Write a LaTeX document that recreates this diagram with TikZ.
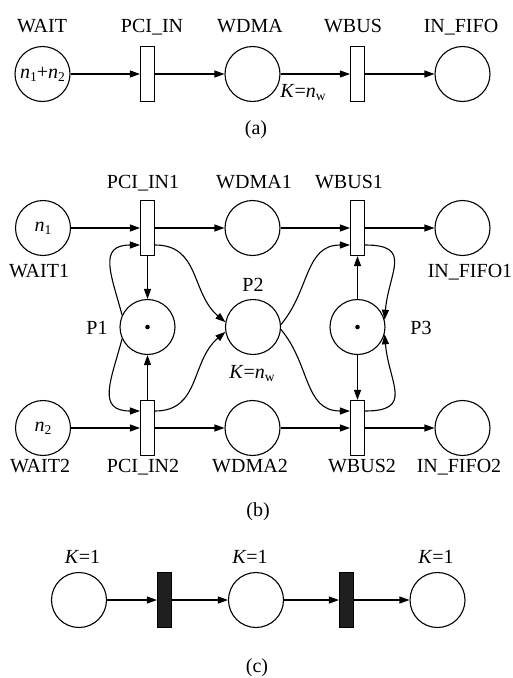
\documentclass[tikz,border=0pt]{standalone}
\usepackage{fontspec}
\setmainfont{Liberation Serif}
\usetikzlibrary{arrows.meta,calc}
\newcommand\lowsub[1]{\raisebox{-0.16em}{\fontsize{13.5}{13.5}\selectfont #1}}
\newcommand\vn{\textit{n}}
\newcommand\Knw{\textit{K}=\vn\lowsub{w}}
\begin{document}
\begin{tikzpicture}[x=1pt,y=-1pt,
  font=\fontsize{20}{22}\selectfont, line width=1.1pt,
  place/.style={circle,draw,minimum size=55pt,inner sep=0pt},
  trans/.style={rectangle,draw,fill=white,minimum width=14pt,minimum height=55pt,inner sep=0pt},
  btrans/.style={trans,fill=black!88},
  arc/.style={-{Triangle[length=10pt,width=7pt]}},
  lbl/.style={inner sep=0pt,anchor=base},
  tok/.style={circle,fill=black,inner sep=0pt,minimum size=4.6pt}]
\useasboundingbox (0,0) rectangle (512,678);

% ---------------- (a)
\node[place] (wait) at (42.5,74) {\vn\lowsub{1}+\vn\lowsub{2}};
\node[trans] (pci) at (147.5,74) {};
\node[place] (wdma) at (252.5,74) {};
\node[trans] (wbus) at (357.5,74) {};
\node[place] (fifo) at (462.5,74) {};
\draw[arc] (wait) -- (pci);
\draw[arc] (pci) -- (wdma);
\draw[arc] (wdma) -- (wbus);
\draw[arc] (wbus) -- (fifo);
\node[lbl] (lwait) at (42,32) {WAIT};
\node[lbl] (lpci) at (152,32) {PCI\_IN};
\node[lbl] (lwdma) at (250,32) {WDMA};
\node[lbl] (lwbus) at (353,32) {WBUS};
\node[lbl] (lfifo) at (461,32) {IN\_FIFO};
\node[lbl] (lka) at (303,97) {\Knw};
\node[lbl] (capa) at (256,134) {(a)};

% ---------------- (b)
\node[place] (wait1) at (43,228) {\vn\lowsub{1}};
\node[trans] (pci1) at (147.5,228) {};
\node[place] (wdma1) at (252.5,228) {};
\node[trans] (wbus1) at (357.5,228) {};
\node[place] (fifo1) at (462.5,228) {};

\node[place] (p1) at (147.5,327) {};
\node[place] (p2) at (253,327) {};
\node[place] (p3) at (357.5,327) {};
\node[tok] (t1) at (p1) {};
\node[tok] (t3) at (p3) {};

\node[place] (wait2) at (43,428) {\vn\lowsub{2}};
\node[trans] (pci2) at (147.5,428) {};
\node[place] (wdma2) at (252.5,428) {};
\node[trans] (wbus2) at (357.5,428) {};
\node[place] (fifo2) at (462.5,428) {};

\draw[arc] (wait1) -- (pci1);
\draw[arc] (pci1) -- (wdma1);
\draw[arc] (wdma1) -- (wbus1);
\draw[arc] (wbus1) -- (fifo1);
\draw[arc] (wait2) -- (pci2);
\draw[arc] (pci2) -- (wdma2);
\draw[arc] (wdma2) -- (wbus2);
\draw[arc] (wbus2) -- (fifo2);

\coordinate (pci1wl) at ([yshift=-17pt]pci1.west);
\coordinate (pci1el) at ([yshift=-17pt]pci1.east);
\coordinate (pci2wh) at ([yshift=17pt]pci2.west);
\coordinate (pci2eh) at ([yshift=17pt]pci2.east);
\coordinate (wbus1wl) at ([yshift=-17pt]wbus1.west);
\coordinate (wbus1el) at ([yshift=-17pt]wbus1.east);
\coordinate (wbus2wh) at ([yshift=17pt]wbus2.west);
\coordinate (wbus2eh) at ([yshift=17pt]wbus2.east);

\draw[arc] (pci1) -- (p1);
\draw[arc] (pci2) -- (p1);
\draw[arc] (p3) -- (wbus1);
\draw[arc] (p3) -- (wbus2);

\draw[arc] (p1.155) to[out=105,in=180,looseness=1.5] (pci1wl);
\draw[arc] (p1.205) to[out=255,in=180,looseness=1.5] (pci2wh);
\draw[arc] (pci1el) to[out=0,in=140,looseness=1.1] (p2.170);
\draw[arc] (pci2eh) to[out=0,in=220,looseness=1.1] (p2.190);
\draw[arc] (p2.5) to[out=50,in=180,looseness=1.1] (wbus1wl);
\draw[arc] (p2.-5) to[out=-50,in=180,looseness=1.1] (wbus2wh);
\draw[arc] (wbus1el) to[out=0,in=85,looseness=1.6] (p3.15);
\draw[arc] (wbus2eh) to[out=0,in=-85,looseness=1.6] (p3.-15);

\node[lbl] (lpci1) at (143,188) {PCI\_IN1};
\node[lbl] (lwdma1) at (254,188) {WDMA1};
\node[lbl] (lwbus1) at (349,188) {WBUS1};
\node[lbl] (lwait1) at (39,277) {WAIT1};
\node[lbl] (lfifo1) at (470,277) {IN\_FIFO1};
\node[lbl] (lp1) at (97,334) {P1};
\node[lbl] (lp2) at (253,291) {P2};
\node[lbl] (lp3) at (421,334) {P3};
\node[lbl] (lkb) at (252,378) {\Knw};
\node[lbl] (lwait2) at (40,472) {WAIT2};
\node[lbl] (lpci2) at (143,472) {PCI\_IN2};
\node[lbl] (lwdma2) at (250,472) {WDMA2};
\node[lbl] (lwbus2) at (362,472) {WBUS2};
\node[lbl] (lfifo2) at (459,472) {IN\_FIFO2};
\node[lbl] (capb) at (258,516) {(b)};

% ---------------- (c)
\node[place] (c1) at (79,600) {};
\node[btrans] (ct1) at (164.5,600) {};
\node[place] (c2) at (256,600) {};
\node[btrans] (ct2) at (346.5,600) {};
\node[place] (c3) at (437.5,600) {};
\draw[arc] (c1) -- (ct1);
\draw[arc] (ct1) -- (c2);
\draw[arc] (c2) -- (ct2);
\draw[arc] (ct2) -- (c3);
\node[lbl] (lk1) at (82.5,563) {\textit{K}=1};
\node[lbl] (lk2) at (250,563) {\textit{K}=1};
\node[lbl] (lk3) at (436,563) {\textit{K}=1};
\node[lbl] (capc) at (257,672) {(c)};
\end{tikzpicture}
\end{document}
